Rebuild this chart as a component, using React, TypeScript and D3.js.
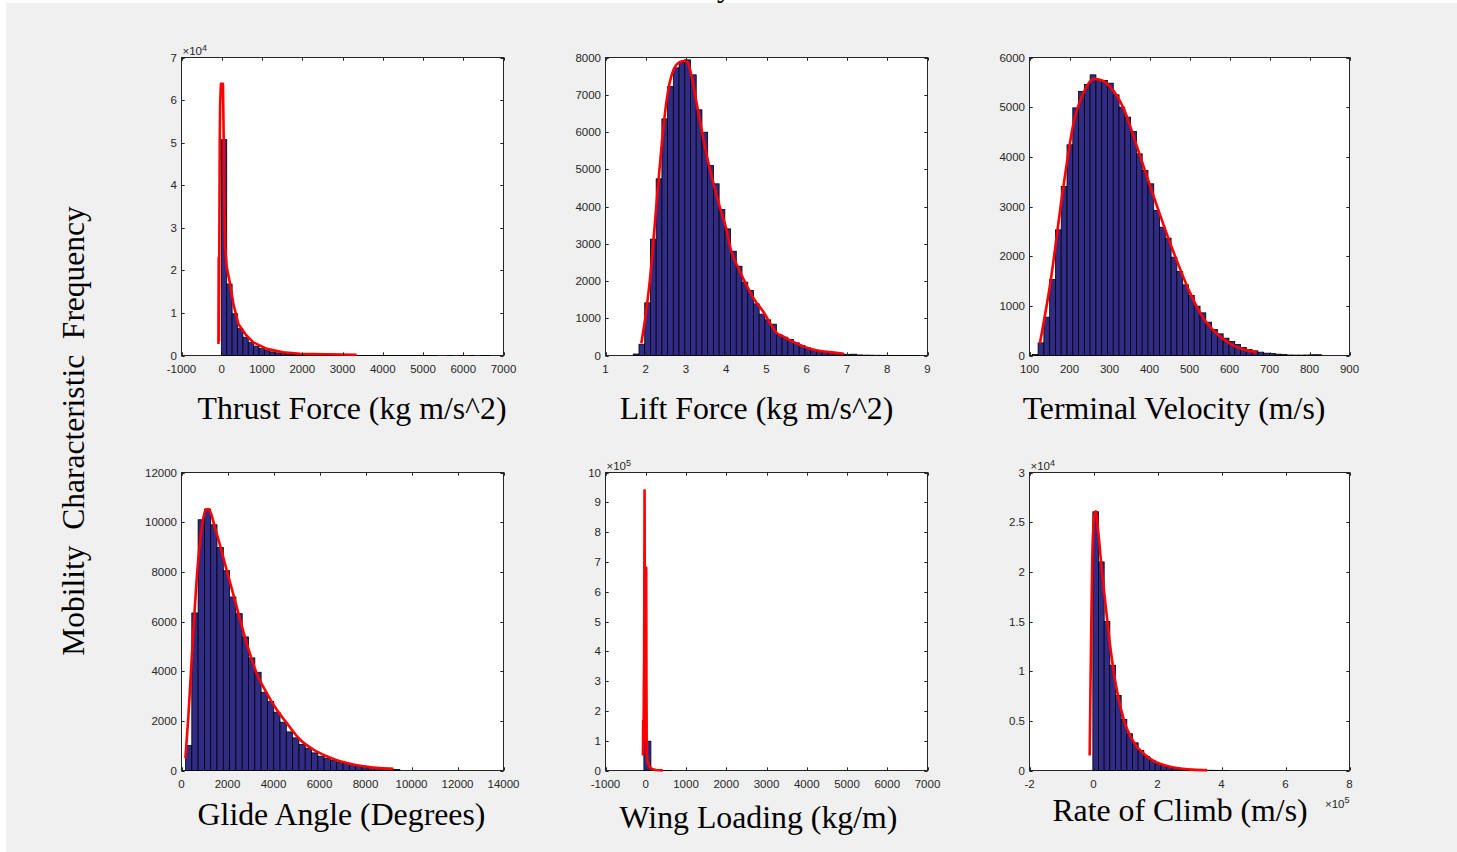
import React from 'react';
import * as d3 from 'd3';

// ---------------- data ----------------
// Thrust Force
const thrustCounts = [50700, 16800, 9800, 6300, 4300, 3100, 2200, 1600, 1150, 850, 620, 450, 330, 250, 190, 140, 110, 85, 65, 50, 40, 32, 25, 20, 16, 13, 10, 8, 7, 6, 5, 4, 4, 3, 3, 2, 2, 2, 1, 1, 0, 0, 1, 0, 1, 0, 1, 0, 1, 1];
const thrustBinStart = -10;
const thrustBinWidth = 133.8;
const thrustCurveX = [-83, -75, -70, -50, -40, -20, 30, 50, 58, 85, 125, 207, 290, 414, 579, 785, 1117, 1528, 1942, 2600, 3350];
const thrustCurveY = [2700, 23000, 3500, 50000, 59000, 63800, 63800, 50000, 39000, 25400, 20700, 16800, 12100, 7400, 5100, 3100, 1560, 780, 400, 280, 160];
const thrustXTicks = [-1000, 0, 1000, 2000, 3000, 4000, 5000, 6000, 7000];
const thrustXTickLabels = ['-1000', '0', '1000', '2000', '3000', '4000', '5000', '6000', '7000'];
const thrustYTicks = [0, 10000, 20000, 30000, 40000, 50000, 60000, 70000];
const thrustYTickLabels = ['0', '1', '2', '3', '4', '5', '6', '7'];

// Lift Force
const liftCounts = [40, 303, 1415, 3122, 4743, 6353, 7220, 7722, 7875, 7937, 7535, 6596, 5995, 5100, 4609, 3919, 3400, 2800, 2397, 1968, 1745, 1387, 1110, 958, 841, 556, 492, 430, 340, 268, 206, 161, 125, 98, 72, 54, 40, 30, 35, 15, 10, 8, 6, 5, 4, 3, 3, 2, 2, 2];
const liftBinStart = 1.69;
const liftBinWidth = 0.1422;
const liftCurveX = [1.89, 2.0, 2.1, 2.2, 2.3, 2.4, 2.5, 2.6, 2.7, 2.8, 2.9, 2.98, 3.05, 3.15, 3.25, 3.4, 3.55, 3.7, 3.85, 4.0, 4.11, 4.3, 4.5, 4.7, 4.93, 5.1, 5.26, 5.4, 5.6, 5.8, 6.09, 6.3, 6.59, 6.92];
const liftCurveY = [330, 1100, 2000, 3200, 4500, 5700, 6700, 7350, 7700, 7850, 7900, 7910, 7850, 7450, 6850, 6000, 5200, 4550, 3950, 3400, 2860, 2350, 1900, 1500, 1160, 850, 600, 520, 400, 300, 180, 130, 90, 45];
const liftXTicks = [1, 2, 3, 4, 5, 6, 7, 8, 9];
const liftXTickLabels = ['1', '2', '3', '4', '5', '6', '7', '8', '9'];
const liftYTicks = [0, 1000, 2000, 3000, 4000, 5000, 6000, 7000, 8000];
const liftYTickLabels = ['0', '1000', '2000', '3000', '4000', '5000', '6000', '7000', '8000'];

// Terminal Velocity
const velocityCounts = [20, 255, 772, 1530, 2530, 3402, 4242, 4986, 5315, 5456, 5651, 5537, 5537, 5483, 5249, 5000, 4799, 4510, 4060, 3725, 3457, 2919, 2584, 2362, 1980, 1691, 1423, 1208, 993, 859, 671, 523, 436, 349, 282, 221, 161, 121, 94, 67, 47, 40, 27, 20, 10, 8, 8, 10, 15, 15];
const velocityBinStart = 107;
const velocityBinWidth = 14.46;
const velocityCurveX = [125.7, 152.4, 181.6, 210.6, 235.6, 260.6, 281.5, 302.3, 335.6, 368.9, 402.2, 435.5, 468.8, 502, 535.4, 568.7, 602, 635.3, 668.6];
const velocityCurveY = [235, 1476, 3221, 4697, 5300, 5570, 5537, 5402, 4967, 4200, 3400, 2620, 1900, 1250, 739, 437, 235, 121, 67];
const velocityXTicks = [100, 200, 300, 400, 500, 600, 700, 800, 900];
const velocityXTickLabels = ['100', '200', '300', '400', '500', '600', '700', '800', '900'];
const velocityYTicks = [0, 1000, 2000, 3000, 4000, 5000, 6000];
const velocityYTickLabels = ['0', '1000', '2000', '3000', '4000', '5000', '6000'];

// Glide Angle
const glideCounts = [1006, 6343, 10097, 10526, 9895, 8983, 8045, 6987, 6315, 5378, 4533, 3955, 3150, 2776, 2347, 1944, 1555, 1314, 1046, 898, 710, 576, 496, 402, 335, 282, 241, 201, 174, 130, 100, 75, 55, 40];
const glideBinStart = 174;
const glideBinWidth = 274;
const glideCurveX = [170, 300, 500, 720, 900, 1060, 1159, 1524, 1959, 2394, 2830, 3265, 3700, 4136, 4571, 5150, 5730, 6310, 6892, 7470, 8050, 8633, 9213];
const glideCurveY = [500, 2200, 5400, 8400, 9900, 10500, 10526, 9560, 8085, 6610, 5136, 3929, 3125, 2454, 1918, 1247, 845, 576, 374, 241, 147, 94, 67];
const glideXTicks = [0, 2000, 4000, 6000, 8000, 10000, 12000, 14000];
const glideXTickLabels = ['0', '2000', '4000', '6000', '8000', '10000', '12000', '14000'];
const glideYTicks = [0, 2000, 4000, 6000, 8000, 10000, 12000];
const glideYTickLabels = ['0', '2000', '4000', '6000', '8000', '10000', '12000'];

// Wing Loading
const wingCounts = [98400, 2500, 400, 80];
const wingBinStart = -46;
const wingBinWidth = 174;
const wingCurveX = [-70, -64, -58, -40, -29, -20, -5, 5, 11, 17, 25, 40, 80, 150, 250, 420];
const wingCurveY = [50000, 168000, 60000, 400000, 940000, 300000, 100000, 400000, 680000, 300000, 50000, 30000, 15000, 5000, 1500, 300];
const wingXTicks = [-1000, 0, 1000, 2000, 3000, 4000, 5000, 6000, 7000];
const wingXTickLabels = ['-1000', '0', '1000', '2000', '3000', '4000', '5000', '6000', '7000'];
const wingYTicks = [0, 100000, 200000, 300000, 400000, 500000, 600000, 700000, 800000, 900000, 1000000];
const wingYTickLabels = ['0', '1', '2', '3', '4', '5', '6', '7', '8', '9', '10'];

// Rate of Climb (x in units of 1e5)
const climbCounts = [26050, 21000, 15000, 10600, 7560, 5140, 3700, 2790, 2015, 1410, 1010, 670, 500, 336, 235, 160, 110, 75, 50, 35, 25, 18, 12, 8];
const climbBinStart = -0.02;
const climbBinWidth = 0.177;
const climbCurveX = [-0.12, -0.08, -0.04, 0.02, 0.07, 0.15, 0.25, 0.4, 0.55, 0.7, 0.85, 1.0, 1.15, 1.3, 1.5, 1.7, 1.9, 2.1, 2.3, 2.5, 2.8, 3.1, 3.55];
const climbCurveY = [1500, 12000, 21000, 25500, 26100, 24000, 20500, 16000, 11800, 8600, 6300, 4600, 3500, 2650, 1900, 1350, 950, 660, 450, 300, 170, 90, 40];
const climbXTicks = [-2, 0, 2, 4, 6, 8];
const climbXTickLabels = ['-2', '0', '2', '4', '6', '8'];
const climbYTicks = [0, 5000, 10000, 15000, 20000, 25000, 30000];
const climbYTickLabels = ['0', '0.5', '1', '1.5', '2', '2.5', '3'];

const yAxisTitle = 'Mobility  Characteristic  Frequency';

// ---------------- layout / style ----------------
const COLS: [number, number][] = [[181.5, 503.5], [605.5, 927.5], [1029.5, 1349.5]];
const ROWS: [number, number][] = [[57.5, 355.5], [472.5, 770.5]];
const BAR_FILL = '#302b85';
const AXIS_COLOR = '#262626';
const TICK_FONT = '"Liberation Sans", Arial, Helvetica, sans-serif';
const LABEL_FONT = '"Liberation Serif", "Times New Roman", Times, serif';

type Panel = {
  counts: number[]; start: number; width: number;
  curveX: number[]; curveY: number[]; smooth: boolean;
  xDomain: [number, number]; yDomain: [number, number];
  xTicks: number[]; xTickLabels: string[]; yTicks: number[]; yTickLabels: string[];
  yExp?: string; xExp?: string;
  label: string; col: number; row: number; labelX: number; labelY: number;
};

const panels: Panel[] = [
  { counts: thrustCounts, start: thrustBinStart, width: thrustBinWidth, curveX: thrustCurveX, curveY: thrustCurveY, smooth: false,
    xDomain: [-1000, 7000], yDomain: [0, 70000], xTicks: thrustXTicks, xTickLabels: thrustXTickLabels, yTicks: thrustYTicks, yTickLabels: thrustYTickLabels,
    yExp: '4', label: 'Thrust Force (kg m/s^2)', col: 0, row: 0, labelX: 352, labelY: 419 },
  { counts: liftCounts, start: liftBinStart, width: liftBinWidth, curveX: liftCurveX, curveY: liftCurveY, smooth: true,
    xDomain: [1, 9], yDomain: [0, 8000], xTicks: liftXTicks, xTickLabels: liftXTickLabels, yTicks: liftYTicks, yTickLabels: liftYTickLabels,
    label: 'Lift Force (kg m/s^2)', col: 1, row: 0, labelX: 756.5, labelY: 419 },
  { counts: velocityCounts, start: velocityBinStart, width: velocityBinWidth, curveX: velocityCurveX, curveY: velocityCurveY, smooth: true,
    xDomain: [100, 900], yDomain: [0, 6000], xTicks: velocityXTicks, xTickLabels: velocityXTickLabels, yTicks: velocityYTicks, yTickLabels: velocityYTickLabels,
    label: 'Terminal Velocity (m/s)', col: 2, row: 0, labelX: 1174, labelY: 419 },
  { counts: glideCounts, start: glideBinStart, width: glideBinWidth, curveX: glideCurveX, curveY: glideCurveY, smooth: true,
    xDomain: [0, 14000], yDomain: [0, 12000], xTicks: glideXTicks, xTickLabels: glideXTickLabels, yTicks: glideYTicks, yTickLabels: glideYTickLabels,
    label: 'Glide Angle (Degrees)', col: 0, row: 1, labelX: 341.5, labelY: 825 },
  { counts: wingCounts, start: wingBinStart, width: wingBinWidth, curveX: wingCurveX, curveY: wingCurveY, smooth: false,
    xDomain: [-1000, 7000], yDomain: [0, 1000000], xTicks: wingXTicks, xTickLabels: wingXTickLabels, yTicks: wingYTicks, yTickLabels: wingYTickLabels,
    yExp: '5', label: 'Wing Loading (kg/m)', col: 1, row: 1, labelX: 758.5, labelY: 828 },
  { counts: climbCounts, start: climbBinStart, width: climbBinWidth, curveX: climbCurveX, curveY: climbCurveY, smooth: true,
    xDomain: [-2, 8], yDomain: [0, 30000], xTicks: climbXTicks, xTickLabels: climbXTickLabels, yTicks: climbYTicks, yTickLabels: climbYTickLabels,
    yExp: '4', xExp: '5', label: 'Rate of Climb (m/s)', col: 2, row: 1, labelX: 1180, labelY: 821 },
];

function PanelView({ p }: { p: Panel }) {
  const [l, r] = COLS[p.col];
  const [t, b] = ROWS[p.row];
  const xs = d3.scaleLinear().domain(p.xDomain).range([l, r]);
  const ys = d3.scaleLinear().domain(p.yDomain).range([b, t]);
  const pts: [number, number][] = p.curveX.map((x, i) => [x, p.curveY[i]]);
  const line = d3.line<[number, number]>()
    .x(d => xs(d[0]))
    .y(d => ys(d[1]))
    .curve(p.smooth ? d3.curveMonotoneX : d3.curveLinear);
  const tl = 3.2;
  return (
    <g>
      <rect x={l} y={t} width={r - l} height={b - t} fill="#ffffff" stroke={AXIS_COLOR} strokeWidth={1} />
      {p.counts.map((c, i) => {
        if (c <= 0) return null;
        const x0 = xs(p.start + i * p.width);
        const x1 = xs(p.start + (i + 1) * p.width);
        const y = ys(c);
        return <rect key={i} x={x0} y={y} width={x1 - x0} height={Math.max(0, b - y)} fill={BAR_FILL} stroke="#000" strokeWidth={0.8} />;
      })}
      <path d={line(pts) || ''} fill="none" stroke="#ff0000" strokeWidth={2.6} strokeLinejoin="round" />
      {p.xTicks.map((v, i) => {
        const x = Math.round(xs(v)) + 0.5;
        return (
          <g key={'xt' + i}>
            <line x1={x} x2={x} y1={b} y2={b - tl} stroke={AXIS_COLOR} />
            <line x1={x} x2={x} y1={t} y2={t + tl} stroke={AXIS_COLOR} />
            <text x={xs(v)} y={b + 17} textAnchor="middle" fontFamily={TICK_FONT} fontSize={11.5} fill={AXIS_COLOR}>{p.xTickLabels[i]}</text>
          </g>
        );
      })}
      {p.yTicks.map((v, i) => {
        const y = Math.round(ys(v)) + 0.5;
        return (
          <g key={'yt' + i}>
            <line x1={l} x2={l + tl} y1={y} y2={y} stroke={AXIS_COLOR} />
            <line x1={r} x2={r - tl} y1={y} y2={y} stroke={AXIS_COLOR} />
            <text x={l - 4.5} y={ys(v) + 4} textAnchor="end" fontFamily={TICK_FONT} fontSize={11.5} fill={AXIS_COLOR}>{p.yTickLabels[i]}</text>
          </g>
        );
      })}
      {p.yExp && (
        <text x={l + 1} y={t - 2.5} fontFamily={TICK_FONT} fontSize={11.5} fill={AXIS_COLOR}>
          ×10<tspan dy={-4.5} fontSize={9}>{p.yExp}</tspan>
        </text>
      )}
      {p.xExp && (
        <text x={r} y={b + 37} textAnchor="end" fontFamily={TICK_FONT} fontSize={11.5} fill={AXIS_COLOR}>
          ×10<tspan dy={-4.5} fontSize={9}>{p.xExp}</tspan>
        </text>
      )}
      <text x={p.labelX} y={p.labelY} textAnchor="middle" fontFamily={LABEL_FONT} fontSize={31.8} fill="#000">{p.label}</text>
    </g>
  );
}

export default function App() {
  return (
    <svg width={1457} height={852} style={{ position: 'absolute', left: 0, top: 0, display: 'block' }}>
      <rect x={0} y={0} width={1457} height={852} fill="#ffffff" />
      <rect x={6} y={3} width={1451} height={849} fill="#f0f0f0" />
      <text x={717} y={-4} fontFamily={LABEL_FONT} fontSize={31} fill="#000">y</text>
      {panels.map((p, i) => <PanelView key={i} p={p} />)}
      <text
        transform="translate(84,431) rotate(-90)"
        textAnchor="middle"
        fontFamily={LABEL_FONT}
        fontSize={31.5}
        fill="#000"
        style={{ whiteSpace: 'pre' }}
      >{yAxisTitle}</text>
    </svg>
  );
}
